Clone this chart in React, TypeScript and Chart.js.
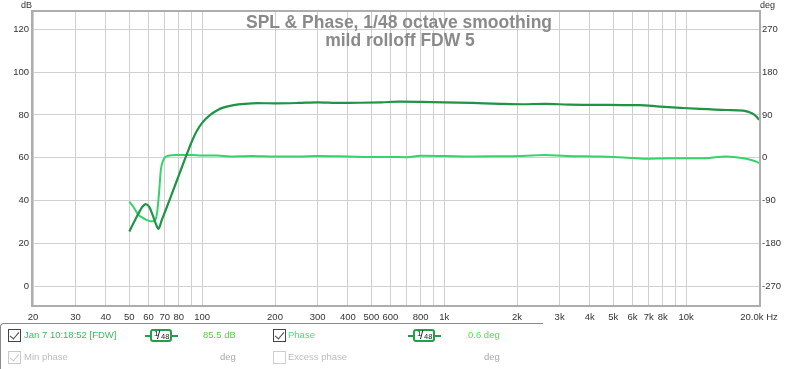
import React, { useEffect, useRef } from 'react';
import { Chart, registerables } from 'chart.js';

Chart.register(...registerables);

// ---- Data ----
const splFreq = [50, 52, 54.4, 56.5, 58.5, 60.5, 62.5, 64.5, 66, 68, 70, 75, 80, 85, 88, 90, 95, 100, 108, 116, 122, 135, 150, 170, 200, 250, 300, 370, 450, 550, 650, 800, 1000, 1300, 1700, 2100, 2600, 3300, 4400, 5500, 6400, 7800, 9500, 11400, 14700, 17200, 18700, 19500, 20000];
const splDb = [25.7, 29.5, 33.8, 37.0, 38.4, 37.0, 33.2, 29.0, 26.9, 30.8, 34.4, 43.3, 51.7, 59.6, 64.0, 66.8, 72.5, 76.3, 80.0, 82.3, 83.4, 84.6, 85.2, 85.5, 85.4, 85.6, 85.9, 85.6, 85.7, 85.9, 86.2, 86.1, 85.9, 85.6, 85.2, 85.0, 85.2, 84.8, 84.7, 84.6, 84.6, 83.9, 83.3, 82.8, 82.3, 82.0, 80.8, 79.3, 77.8];

const phaseFreq = [50, 52, 54.4, 56.5, 58.8, 61, 62.8, 64.5, 65.5, 66.5, 67.5, 69.2, 72.4, 78, 90, 100, 115, 130, 160, 200, 250, 300, 400, 500, 600, 700, 800, 1000, 1300, 1700, 2100, 2600, 3200, 4400, 5500, 6800, 8500, 11400, 14700, 17200, 18700, 19500, 20000];
const phaseDeg = [-92, -103, -119, -125, -130, -133, -133, -126, -105, -67, -25, -4, 4.5, 6, 6, 5, 5, 3, 4, 3, 3, 4, 3, 2, 2, 1.5, 4.5, 4, 3, 3.5, 4, 6, 4, 2.7, 1, -2, -1, -1, 2.7, -1, -5, -8, -11];

const xGridValues = [20, 30, 40, 50, 60, 70, 80, 90, 100, 200, 300, 400, 500, 600, 700, 800, 900, 1000, 2000, 3000, 4000, 5000, 6000, 7000, 8000, 9000, 10000, 20000];
const xLabelValues = [20, 30, 40, 50, 60, 70, 80, 100, 200, 300, 400, 500, 600, 800, 1000, 2000, 3000, 4000, 5000, 6000, 7000, 8000, 10000, 20000];
const xLabelTexts = ['20', '30', '40', '50', '60', '70', '80', '100', '200', '300', '400', '500', '600', '800', '1k', '2k', '3k', '4k', '5k', '6k', '7k', '8k', '10k', '20.0k Hz'];
const dbTicks = [0, 20, 40, 60, 80, 100, 120];
const degTicks = [-270, -180, -90, 0, 90, 180, 270];

const DB_MIN = -8.6;
const DB_MAX = 128;

const SPL_COLOR = '#1f9446';
const PHASE_COLOR = '#36d26c';
const FONT = "'Liberation Sans', Arial, sans-serif";

const framePlugin = {
  id: 'frame',
  afterDatasetsDraw(chart: any) {
    const { ctx, chartArea: a } = chart;
    ctx.save();
    ctx.strokeStyle = '#adadad';
    ctx.lineWidth = 2;
    ctx.strokeRect(a.left - 1, a.top - 1, a.right - a.left + 2, a.bottom - a.top + 2);
    ctx.restore();
  },
};

function CheckBox({ x, y, checked, color }: { x: number; y: number; checked: boolean; color: string }) {
  return (
    <div style={{ position: 'absolute', left: x, top: y, width: 11, height: 11, border: `1px solid ${color}`, background: '#fff' }}>
      {checked && (
        <div style={{ position: 'absolute', left: 3, top: 0, width: 4, height: 8, borderRight: `1.5px solid ${color}`, borderBottom: `1.5px solid ${color}`, transform: 'rotate(40deg)' }} />
      )}
    </div>
  );
}

function SmoothIcon({ x }: { x: number }) {
  const G = '#21a04a';
  return (
    <div style={{ position: 'absolute', left: x, top: 329, width: 33, height: 14 }}>
      <div style={{ position: 'absolute', left: 0, top: 5.5, width: 33, height: 2, background: G }} />
      <div style={{ position: 'absolute', left: 5, top: 0, width: 18, height: 9, border: `2px solid ${G}`, borderRadius: 3, background: '#fff', color: '#222', fontFamily: FONT }}>
        <span style={{ position: 'absolute', left: 2, top: -1, fontSize: 8, lineHeight: '8px' }}>1</span>
        <span style={{ position: 'absolute', left: 5, top: -2, fontSize: 12, lineHeight: '12px' }}>/</span>
        <span style={{ position: 'absolute', left: 9, top: 2, fontSize: 7.5, lineHeight: '8px' }}>48</span>
      </div>
    </div>
  );
}

function Txt({ x, y, color, children, size = 9.5 }: any) {
  return (
    <div style={{ position: 'absolute', left: x, top: y, fontSize: size, lineHeight: 1, color, whiteSpace: 'nowrap', fontFamily: FONT }}>
      {children}
    </div>
  );
}

export default function App() {
  const canvasRef = useRef<HTMLCanvasElement | null>(null);

  useEffect(() => {
    if (!canvasRef.current) return;
    const chart = new Chart(canvasRef.current, {
      type: 'line',
      data: {
        datasets: [
          {
            label: 'SPL',
            data: splFreq.map((f, i) => ({ x: f, y: splDb[i] })),
            borderColor: SPL_COLOR,
            borderWidth: 2.2,
            pointRadius: 0,
            cubicInterpolationMode: 'monotone',
            yAxisID: 'y',
          },
          {
            label: 'Phase',
            data: phaseFreq.map((f, i) => ({ x: f, y: phaseDeg[i] })),
            borderColor: PHASE_COLOR,
            borderWidth: 2,
            pointRadius: 0,
            cubicInterpolationMode: 'monotone',
            yAxisID: 'y1',
          },
        ],
      },
      options: {
        animation: false,
        responsive: false,
        maintainAspectRatio: false,
        layout: { padding: { top: 12, left: 0, right: 0, bottom: 44 } },
        plugins: { legend: { display: false }, tooltip: { enabled: false }, title: { display: false } },
        scales: {
          x: {
            type: 'logarithmic',
            min: 20,
            max: 20000,
            afterBuildTicks: (scale: any) => {
              scale.ticks = xGridValues.map((v) => ({ value: v }));
            },
            afterFit: (scale: any) => {
              scale.height = 20;
            },
            ticks: {
              autoSkip: false,
              maxRotation: 0,
              minRotation: 0,
              padding: 7,
              color: '#333',
              font: { family: FONT, size: 9.5 },
              callback: (value: any) => {
                const idx = xLabelValues.indexOf(Number(value));
                return idx >= 0 ? xLabelTexts[idx] : '';
              },
            },
            grid: { color: '#d0d0d0', lineWidth: 1, drawTicks: false },
            border: { display: false },
          },
          y: {
            type: 'linear',
            position: 'left',
            min: DB_MIN,
            max: DB_MAX,
            afterBuildTicks: (scale: any) => {
              scale.ticks = dbTicks.map((v) => ({ value: v }));
            },
            afterFit: (scale: any) => {
              scale.width = 33;
            },
            ticks: { padding: 4, color: '#333', font: { family: FONT, size: 9.5 } },
            grid: { color: '#d0d0d0', lineWidth: 1, drawTicks: false },
            border: { display: false },
          },
          y1: {
            type: 'linear',
            position: 'right',
            min: (DB_MIN - 60) * 4.5,
            max: (DB_MAX - 60) * 4.5,
            afterBuildTicks: (scale: any) => {
              scale.ticks = degTicks.map((v) => ({ value: v }));
            },
            afterFit: (scale: any) => {
              scale.width = 41;
            },
            ticks: { padding: 3, color: '#333', font: { family: FONT, size: 9.5 } },
            grid: { display: false, drawTicks: false },
            border: { display: false },
          },
        },
      },
      plugins: [framePlugin],
    } as any);
    return () => chart.destroy();
  }, []);

  return (
    <div style={{ position: 'absolute', left: 0, top: 0, width: 800, height: 369, background: '#fff', overflow: 'hidden', fontFamily: FONT }}>
      <canvas ref={canvasRef} width={800} height={369} style={{ position: 'absolute', left: 0, top: 0, width: 800, height: 369 }} />
      {/* axis units */}
      <Txt x={21} y={1} color="#333" size={9}>dB</Txt>
      <Txt x={760} y={1} color="#333" size={9}>deg</Txt>
      {/* title */}
      <div style={{ position: 'absolute', left: 0, top: 13.5, width: 798, textAlign: 'center', fontSize: 17.5, lineHeight: 1, fontWeight: 'bold', color: '#8a8a8a', fontFamily: FONT, whiteSpace: 'nowrap' }}>
        SPL &amp; Phase, 1/48 octave smoothing
      </div>
      <div style={{ position: 'absolute', left: 0, top: 32, width: 800, textAlign: 'center', fontSize: 17.5, lineHeight: 1, fontWeight: 'bold', color: '#8a8a8a', fontFamily: FONT, whiteSpace: 'nowrap' }}>
        mild rolloff FDW 5
      </div>
      {/* legend panel */}
      <div style={{ position: 'absolute', left: 0, top: 323, width: 542, height: 60, borderTop: '1px solid #8a8a8a', borderLeft: '1px solid #8a8a8a', borderTopLeftRadius: 4 }} />
      <CheckBox x={8} y={329} checked color="#444" />
      <Txt x={24} y={330.3} color="#3dba5e">Jan 7 10:18:52 [FDW]</Txt>
      <SmoothIcon x={145} />
      <Txt x={203} y={330.3} color="#5ccb48">85.5 dB</Txt>
      <CheckBox x={273} y={329} checked color="#444" />
      <Txt x={288} y={330.3} color="#4cdc7e">Phase</Txt>
      <SmoothIcon x={408} />
      <Txt x={468} y={330.3} color="#52dc5a">0.6 deg</Txt>

      <CheckBox x={8} y={351} checked color="#c8c8c8" />
      <Txt x={24} y={351.5} color="#bdbdbd">Min phase</Txt>
      <Txt x={220} y={351.5} color="#a8a8a8">deg</Txt>
      <CheckBox x={273} y={351} checked={false} color="#cfcfcf" />
      <Txt x={288} y={351.5} color="#bdbdbd">Excess phase</Txt>
      <Txt x={484} y={351.5} color="#a8a8a8">deg</Txt>
    </div>
  );
}
